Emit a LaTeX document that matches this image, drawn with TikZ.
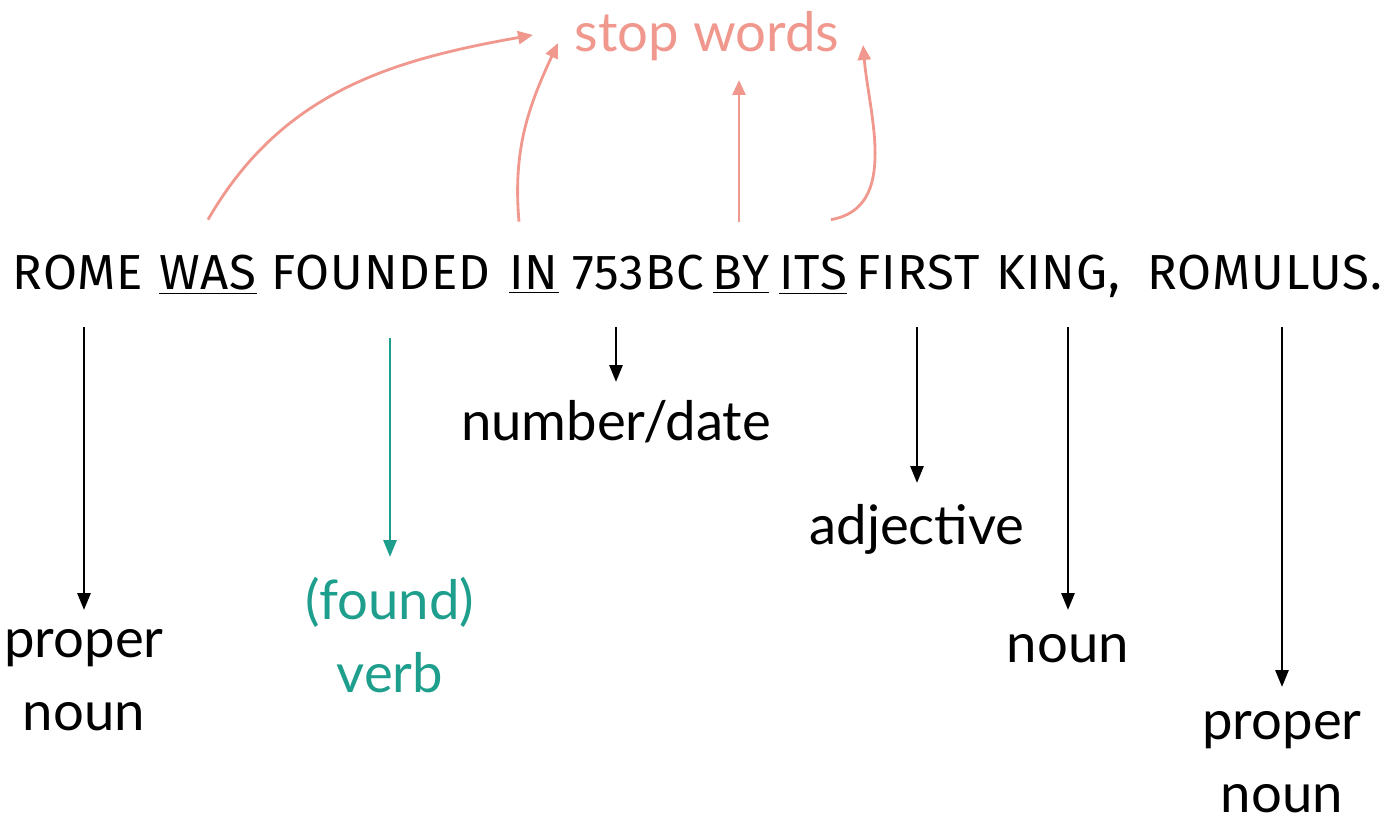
\documentclass[tikz,border=0pt]{standalone}
\usepackage{fontspec}
\newfontfamily\labelfont{Lato}
\newfontfamily\sentfont[LetterSpace=2]{Fira Sans}
\usetikzlibrary{arrows.meta}
\definecolor{stoppink}{RGB}{240,152,142}
\definecolor{verbteal}{RGB}{30,158,140}
\tikzstyle{word}=[anchor=base,inner sep=0pt,text height=0.7cm,text depth=0.3cm,font=\sentfont\fontsize{28}{34}\selectfont]
\tikzstyle{tag}=[anchor=base,inner sep=0pt,align=center,font=\labelfont\fontsize{31}{41.5}\selectfont]
\tikzstyle{arr}=[draw,line width=1.6pt,-{Triangle[length=0.34cm,width=0.26cm]}]
\tikzstyle{stoparr}=[arr,stoppink,-{Triangle[length=0.3cm,width=0.26cm]}]

\begin{document}
\begin{tikzpicture}[x=0.02cm,y=0.02cm]
    \useasboundingbox (0,0) rectangle (1400,826);
    % The sentence, one node per word
    \foreach \pos/ \name/ \txt in {78/rome/ROME, 208/was/\underline{WAS}, 381/founded/FOUNDED,
        534/inw/\underline{IN}, 638/yr/753BC, 741/byw/\underline{BY}, 813/its/\underline{ITS},
        918/first/FIRST, 1058/king/{KING,}, 1265/romulus/ROMULUS.}
        \node[word] (\name) at (\pos,536) {\txt};

    % Word classes below the sentence (base = last line)
    \node[tag] (pn1) at (84,96) {proper\\noun};
    \node[tag,verbteal] (vb) at (390,134) {(found)\\verb};
    \node[tag] (nd) at (616,386) {number/date};
    \node[tag] (adj) at (917,282) {adjective};
    \node[tag] (nn) at (1068,164) {noun};
    \node[tag] (pn2) at (1282,14) {proper\\noun};
    \node[tag,stoppink] (sw) at (707,774) {stop words};

    % Connect words with their classes
    \foreach \wd/ \lb/ \gap in {rome/pn1/2.4, yr/nd/1.16, first/adj/1.22, king/nn/1.04, romulus/pn2/2.5}
        \path[arr,shorten <=0.44cm] (\lb |- \wd.south) -- ([yshift=\gap cm]\lb.base);
    \path[arr,verbteal,shorten <=0.66cm] (vb |- founded.south) -- ([yshift=2.7cm]vb.base);

    % Stop words go up
    \path[stoparr] ([shift={(0,35)}]was.north) to[out=60,in=190] ([shift={(-174,17)}]sw.base);
    \path[stoparr] ([shift={(-15,33)}]inw.north) to[out=95,in=245] ([shift={(-149,9)}]sw.base);
    \path[stoparr] ([shift={(-2,33)}]byw.north) -- ([shift={(32,-28)}]sw.base);
    \path[stoparr] ([shift={(18,35)}]its.north) to[out=10,in=275] ([shift={(156,7)}]sw.base);
\end{tikzpicture}
\end{document}
